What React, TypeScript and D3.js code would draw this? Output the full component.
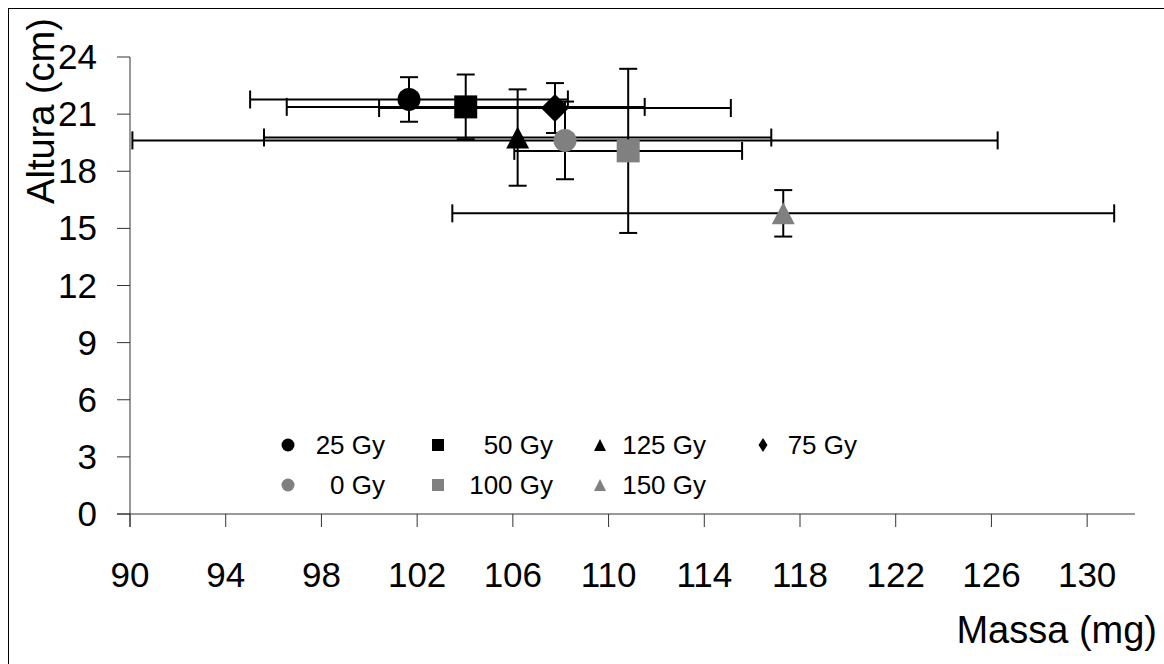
import React from "react";
import * as d3 from "d3";

// ---- data ----
const seriesNames = ["25 Gy", "50 Gy", "125 Gy", "75 Gy", "0 Gy", "100 Gy", "150 Gy"];
const massa = [101.66, 104.03, 106.2, 107.76, 108.18, 110.82, 117.3];
const altura = [21.77, 21.38, 19.77, 21.32, 19.62, 19.07, 15.79];
const massaErr = [6.64, 7.48, 10.6, 7.35, 18.08, 4.76, 13.83];
const alturaErr = [1.17, 1.7, 2.53, 1.31, 2.04, 4.31, 1.22];
const xTicks = [90, 94, 98, 102, 106, 110, 114, 118, 122, 126, 130];
const yTicks = [0, 3, 6, 9, 12, 15, 18, 21, 24];

// ---- styles ----
const shapes = ["circle", "square", "triangle", "diamond", "circle", "square", "triangle"];
const colors = ["#000000", "#000000", "#000000", "#000000", "#808080", "#808080", "#808080"];
const FONT = "'Liberation Sans', Arial, sans-serif";

function markerPath(shape: string, w: number, hgt?: number) {
  const h = w / 2;
  const v = (hgt ?? w) / 2;
  switch (shape) {
    case "circle":
      return d3.symbol(d3.symbolCircle, Math.PI * h * h)() as string;
    case "square":
      return `M${-h},${-v}H${h}V${v}H${-h}Z`;
    case "triangle":
      return `M0,${-v}L${h},${v}L${-h},${v}Z`;
    case "diamond":
      return `M0,${-v}L${h},0L0,${v}L${-h},0Z`;
  }
  return "";
}

export default function App() {
  const x = d3.scaleLinear().domain([90, 132]).range([130, 1135]);
  const y = d3.scaleLinear().domain([0, 24]).range([514, 57]);
  const cap = 9;

  const legendCols = [288, 438, 600, 763];
  const legendRows = [445, 485];
  const legendTextX = [385, 553, 706, 857];
  const plotSize: Record<string, [number, number]> = {
    circle: [23, 23],
    square: [23, 23],
    triangle: [23, 22],
    diamond: [28, 28],
  };
  const legSize: Record<string, [number, number]> = {
    circle: [13, 13],
    square: [12, 12],
    triangle: [12, 12],
    diamond: [9, 14],
  };

  return (
    <svg
      width={1164}
      height={664}
      style={{ position: "absolute", left: 0, top: 0, background: "#fff" }}
      fontFamily={FONT}
    >
      <rect x={0} y={0} width={1164} height={664} fill="#fff" />
      <rect x={8.5} y={8.5} width={1300} height={800} fill="none" stroke="#000" strokeWidth={1} />

      {/* axes */}
      <line x1={130} x2={130} y1={y(24)} y2={527} stroke="#333" strokeWidth={1} />
      <line x1={117} x2={x(132)} y1={514} y2={514} stroke="#333" strokeWidth={1} />
      {yTicks.map((t) => (
        <g key={"y" + t}>
          <line x1={117} x2={130} y1={y(t)} y2={y(t)} stroke="#333" strokeWidth={1} />
          <text x={97} y={y(t) + 12} fontSize={35} textAnchor="end" fill="#000">
            {t}
          </text>
        </g>
      ))}
      {xTicks.map((t) => (
        <g key={"x" + t}>
          <line x1={x(t)} x2={x(t)} y1={514} y2={527} stroke="#333" strokeWidth={1} />
          <text x={x(t)} y={587} fontSize={35} textAnchor="middle" fill="#000">
            {t}
          </text>
        </g>
      ))}

      <text
        transform={`translate(54,111) rotate(-90)`}
        fontSize={38}
        textAnchor="middle"
        fill="#000"
      >
        Altura (cm)
      </text>
      <text x={1157} y={643} fontSize={38} textAnchor="end" fill="#000">
        Massa (mg)
      </text>

      {/* error bars */}
      {seriesNames.map((n, i) => {
        const cx = x(massa[i]);
        const cy = y(altura[i]);
        const x0 = x(massa[i] - massaErr[i]);
        const x1 = x(massa[i] + massaErr[i]);
        const y0 = y(altura[i] + alturaErr[i]);
        const y1 = y(altura[i] - alturaErr[i]);
        return (
          <g key={"e" + n} stroke="#000" strokeWidth={2}>
            <line x1={x0} x2={x1} y1={cy} y2={cy} />
            <line x1={x0} x2={x0} y1={cy - cap} y2={cy + cap} />
            <line x1={x1} x2={x1} y1={cy - cap} y2={cy + cap} />
            <line x1={cx} x2={cx} y1={y0} y2={y1} />
            <line x1={cx - cap} x2={cx + cap} y1={y0} y2={y0} />
            <line x1={cx - cap} x2={cx + cap} y1={y1} y2={y1} />
          </g>
        );
      })}

      {/* markers */}
      {seriesNames.map((n, i) => (
        <path
          key={"m" + n}
          d={markerPath(shapes[i], plotSize[shapes[i]][0], plotSize[shapes[i]][1])}
          transform={`translate(${x(massa[i])},${y(altura[i])})`}
          fill={colors[i]}
        />
      ))}

      {/* legend */}
      {seriesNames.map((n, i) => {
        const col = i < 4 ? i : i - 4;
        const row = i < 4 ? 0 : 1;
        const lx = legendCols[col];
        const ly = legendRows[row];
        return (
          <g key={"l" + n}>
            <path
              d={markerPath(shapes[i], legSize[shapes[i]][0], legSize[shapes[i]][1])}
              transform={`translate(${lx},${ly})`}
              fill={colors[i]}
            />
            <text x={legendTextX[col]} y={ly + 9} fontSize={26} textAnchor="end" fill="#000">
              {n}
            </text>
          </g>
        );
      })}
    </svg>
  );
}
